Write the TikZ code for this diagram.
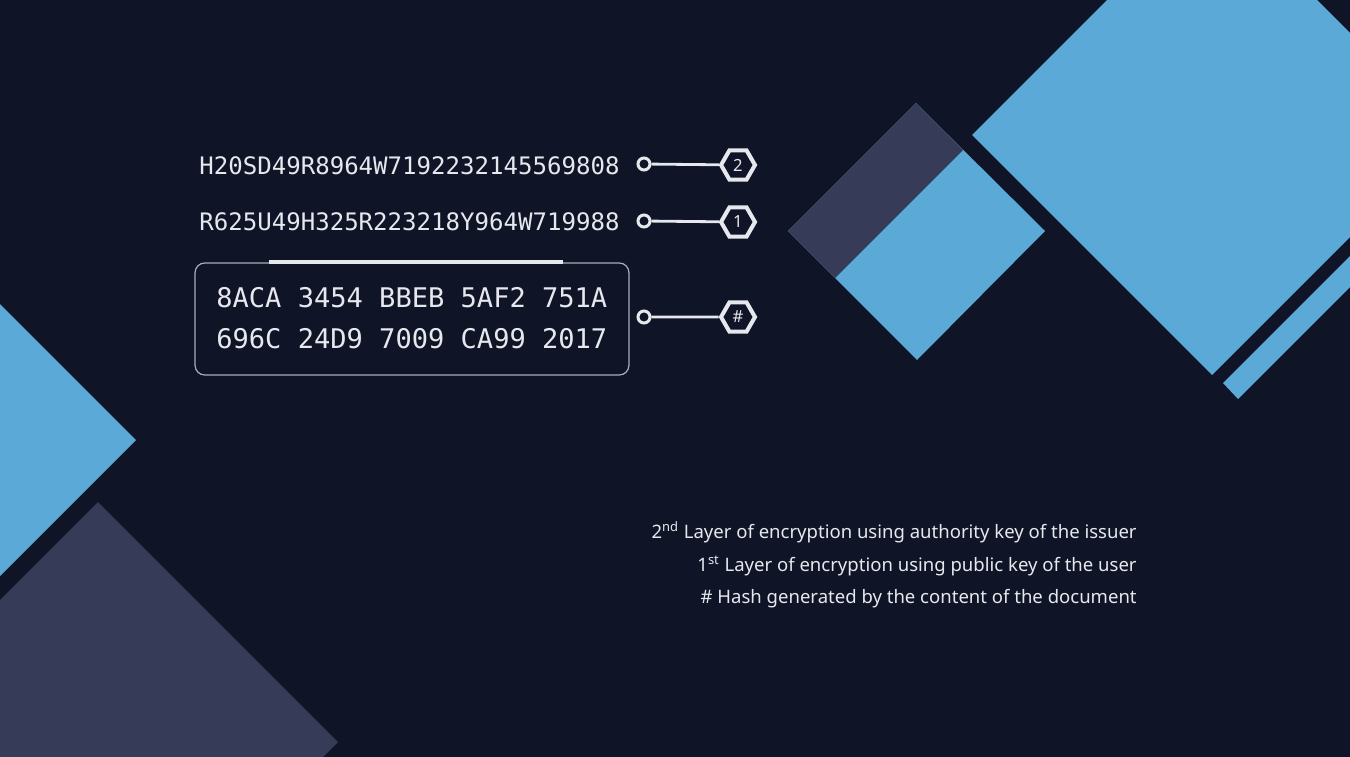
\documentclass[tikz,border=0pt]{standalone}
\usepackage{fontspec}
\setmainfont{Noto Sans}
\newfontfamily\lcdfont{DejaVu Sans Mono}
\usepackage{xcolor}
\definecolor{night}{HTML}{0F1427}
\definecolor{skyblue}{HTML}{5BA9D6}
\definecolor{slate}{HTML}{363C58}
\definecolor{chalk}{HTML}{E6E8EE}
\definecolor{steel}{HTML}{A9ADB8}
\usetikzlibrary{shapes.geometric}

\begin{document}
\begin{tikzpicture}[x=0.02cm,y=-0.02cm]
%\draw [help lines] (0,0) grid (1350,757);
\tikzset{
	code/.style={
		inner sep=0pt,
		anchor=west,
		text=chalk,
		font=\lcdfont\fontsize{13.7}{15}\selectfont
	},
	keyrow/.style={
		inner sep=0pt,
		anchor=west,
		text=chalk,
		font=\lcdfont\fontsize{15.4}{17}\selectfont
	},
	panel/.style={
		rectangle,
		rounded corners=5.5pt,
		draw=steel,
		line width=0.7pt,
		minimum width=8.68cm,
		minimum height=2.24cm
	},
	ring/.style={
		circle,
		inner sep=0pt,
		minimum size=0.24cm,
		draw=chalk,
		line width=1.7pt,
		fill=night
	},
	hexa/.style={
		regular polygon,
		regular polygon sides=6,
		inner sep=0pt,
		minimum size=0.68cm,
		draw=chalk,
		line width=2.3pt,
		fill=night,
		text=chalk,
		font=\fontsize{9.5}{10}\selectfont
	},
	link/.style={
		draw=chalk,
		line width=1.6pt
	},
	legend/.style={
		inner sep=0pt,
		anchor=base east,
		text=chalk,
		font=\fontsize{10.55}{12}\selectfont
	},
}

\useasboundingbox (0,0) rectangle (1350,757);
\fill [night] (0,0) rectangle (1350,757);

\begin{scope}
\clip (0,0) rectangle (1350,757);
\fill [skyblue] (0,304) -- (136,440) -- (0,576) -- (-136,440) -- cycle;
\fill [slate] (98,502) -- (338,742) -- (98,982) -- (-142,742) -- cycle;
\fill [skyblue] (972,135) -- (1212,-105) -- (1452,135) -- (1212,375) -- cycle;
\fill [skyblue] (1223,383) -- (1238,399) -- (1420,217) -- (1405,201) -- cycle;
\fill [skyblue] (916,103) -- (1045,231) -- (917,360) -- (788,231) -- cycle;
\fill [slate] (916,103) -- (963,150) -- (835,278) -- (788,231) -- cycle;
\end{scope}

\node (c2) [code] at (199,166) {H20SD49R8964W7192232145569808};
\node (c1) [code] at (199,222) {R625U49H325R223218Y964W719988};

\node (keys) [panel] at (412,319) {};
\draw [draw=chalk, line width=1.8pt] (269,262) -- (563,262);
\node (k1) [keyrow] at (216,298) {8ACA 3454 BBEB 5AF2 751A};
\node (k2) [keyrow] at (216,339) {696C 24D9 7009 CA99 2017};

\node (r2) [ring] at (644,164) {};
\node (h2) [hexa] at (738,165) {2};
\node (r1) [ring] at (644,221) {};
\node (h1) [hexa] at (738,222) {1};
\node (r0) [ring] at (644,317) {};
\node (h0) [hexa] at (738,317) {\#};
\draw [link] (r2) -- (h2);
\draw [link] (r1) -- (h1);
\draw [link] (r0) -- (h0);

\node (l2) [legend] at (1137,538) {2\textsuperscript{nd} Layer of encryption using authority key of the issuer};
\node (l1) [legend] at (1137,571) {1\textsuperscript{st} Layer of encryption using public key of the user};
\node (l0) [legend] at (1137,603) {\# Hash generated by the content of the document};
\end{tikzpicture}
\end{document}
